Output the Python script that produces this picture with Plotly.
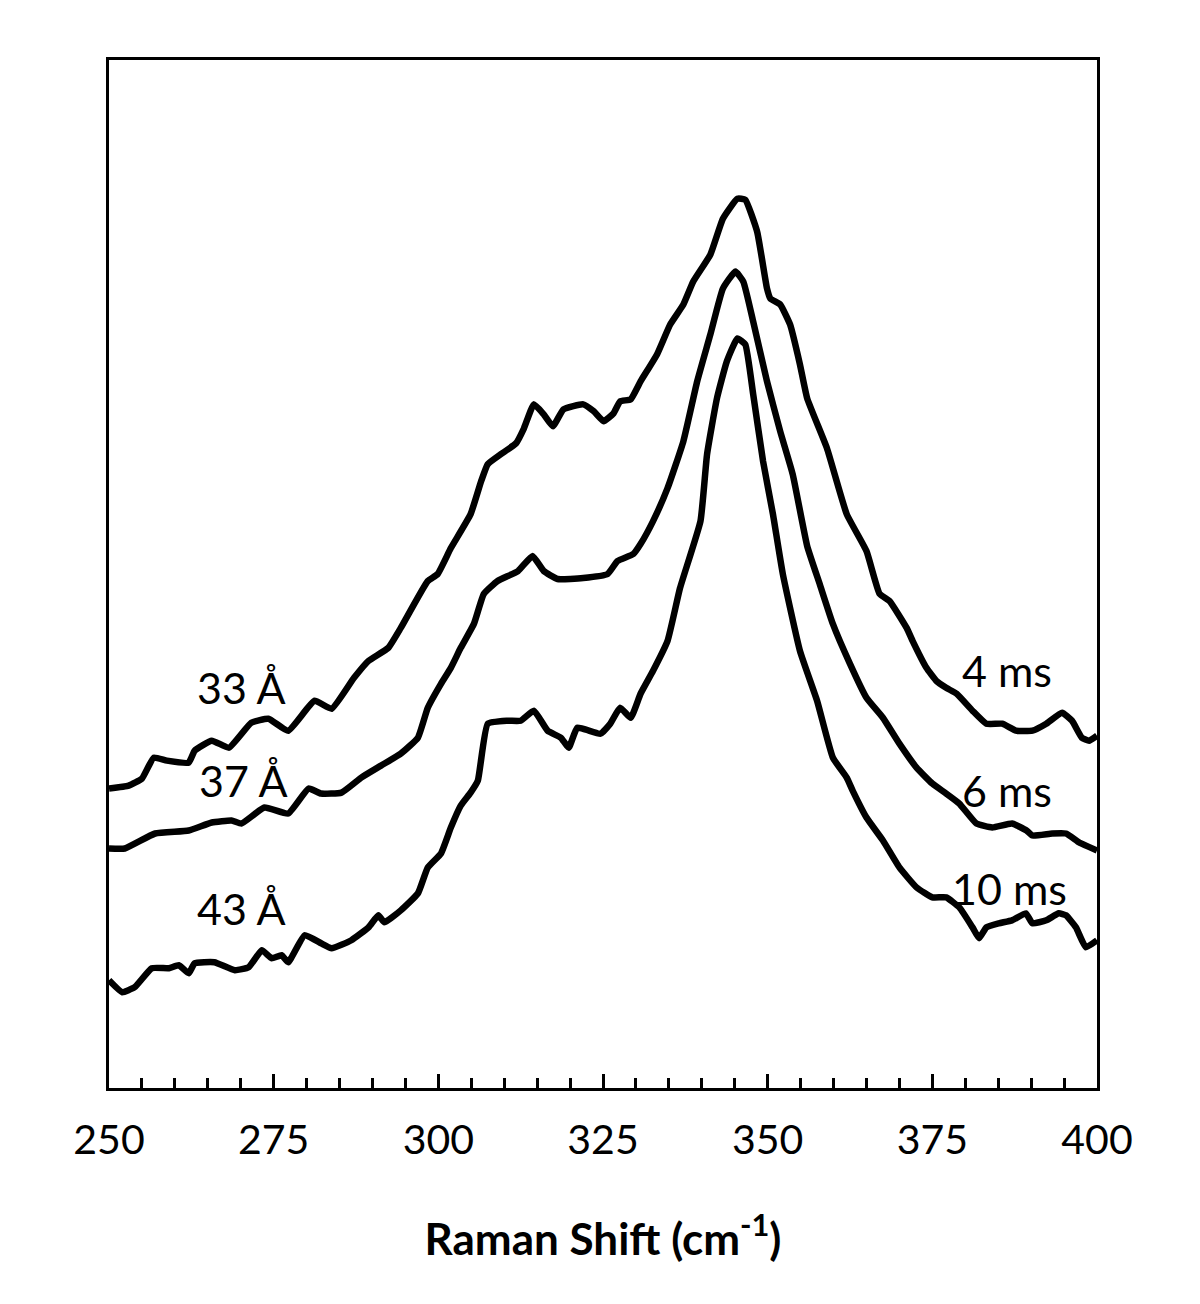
import plotly.graph_objects as go

# Raman shift (cm^-1) and intensity (arbitrary units, offset traces)
x_4ms = [250.0, 253.0, 255.0, 256.8, 258.8, 262.1, 263.0, 265.6, 268.2, 271.6, 274.2, 277.2, 281.2, 283.8,
         287.2, 289.4, 292.4, 294.3, 298.4, 299.9, 301.9, 304.9, 306.5, 307.5, 309.5, 311.8, 313.0, 314.5,
         316.0, 317.4, 319.0, 322.0, 323.6, 325.1, 326.6, 327.6, 329.2, 330.7, 333.2, 335.2, 337.2, 338.7,
         341.3, 343.2, 345.4, 346.6, 348.4, 349.9, 350.4, 351.9, 353.4, 354.9, 356.0, 359.0, 362.0, 365.0,
         367.0, 368.5, 371.1, 372.0, 374.1, 375.6, 377.1, 378.7, 381.1, 383.2, 385.6, 387.7, 390.2, 392.3,
         394.7, 396.2, 397.7, 398.8, 400.0]
y_4ms = [300, 303, 310, 331, 328, 326, 338, 348, 341, 366, 370, 358, 388, 380,
         411, 428, 441, 461, 508, 515, 541, 575, 608, 625, 635, 646, 661, 685,
         675, 663, 680, 685, 678, 668, 676, 688, 690, 708, 735, 765, 785, 808,
         835, 871, 891, 890, 858, 801, 791, 785, 765, 725, 691, 641, 575, 538,
         495, 488, 461, 448, 421, 408, 401, 395, 378, 365, 365, 358, 358, 365,
         376, 368, 351, 348, 353]

x_6ms = [250.0, 252.4, 257.0, 262.1, 265.6, 268.6, 270.1, 273.6, 277.2, 280.3, 282.2, 285.3, 288.3, 291.3,
         294.3, 296.9, 298.4, 300.4, 301.9, 303.4, 305.4, 306.9, 309.0, 312.1, 314.3, 316.0, 318.1, 322.0,
         325.7, 327.2, 329.6, 330.7, 332.6, 334.8, 337.2, 339.3, 341.3, 343.2, 345.1, 346.3, 347.8, 349.9,
         351.9, 353.8, 356.0, 357.9, 359.9, 362.5, 365.0, 367.5, 370.0, 372.6, 375.0, 377.1, 379.1, 381.7,
         384.1, 387.1, 389.3, 390.2, 393.2, 395.3, 397.3, 400.0]
y_6ms = [240, 240, 255, 258, 266, 268, 265, 281, 275, 300, 295, 296, 311, 323,
         335, 351, 381, 405, 421, 441, 465, 495, 508, 518, 533, 518, 510, 511,
         515, 528, 535, 545, 568, 601, 648, 708, 755, 801, 818, 808, 768, 708,
         658, 615, 543, 505, 465, 425, 391, 371, 345, 321, 305, 295, 285, 265,
         261, 265, 258, 253, 255, 255, 246, 238]

x_10ms = [250.0, 252.0, 253.9, 256.5, 259.1, 260.6, 262.1, 263.0, 266.0, 269.1, 271.2, 273.2, 274.7, 276.2,
          277.2, 279.7, 282.2, 283.8, 286.8, 289.4, 290.9, 291.8, 294.3, 296.9, 298.4, 300.4, 301.9, 303.4,
          304.9, 306.0, 307.5, 310.5, 312.5, 314.5, 316.6, 318.6, 319.8, 321.1, 324.6, 326.1, 327.6, 329.2,
          330.7, 332.6, 334.8, 336.7, 339.8, 340.8, 342.3, 343.8, 345.4, 346.6, 347.8, 349.3, 350.8, 352.3,
          354.9, 357.5, 359.9, 362.0, 362.9, 365.0, 367.5, 370.0, 372.6, 375.0, 377.1, 379.1, 381.1, 382.1,
          383.2, 385.1, 387.1, 389.2, 390.2, 392.3, 394.2, 395.3, 396.8, 398.3, 400.0]
y_10ms = [108, 96, 101, 120, 120, 123, 115, 125, 126, 118, 121, 138, 130, 133,
          126, 153, 145, 140, 148, 161, 173, 166, 178, 195, 221, 235, 261, 283,
          296, 308, 365, 368, 368, 378, 358, 351, 341, 361, 355, 365, 381, 371,
          395, 418, 448, 501, 568, 635, 691, 728, 751, 745, 695, 628, 575, 515,
          438, 388, 331, 311, 298, 271, 248, 221, 201, 191, 191, 181, 161, 150,
          161, 165, 168, 175, 165, 168, 175, 173, 161, 141, 148]

size_labels = ["33 Å", "37 Å", "43 Å"]
size_label_x = [270.1, 270.4, 270.1]
size_label_y = [401, 308, 180]
time_labels = ["4 ms", "6 ms", "10 ms"]
time_label_x = [386.4, 386.4, 386.7]
time_label_y = [418, 298, 200]

FONT = "Lato, 'Open Sans', sans-serif"

fig = go.Figure()
for xs, ys in [(x_4ms, y_4ms), (x_6ms, y_6ms), (x_10ms, y_10ms)]:
    fig.add_trace(go.Scatter(x=xs, y=ys, mode="lines",
                             line=dict(color="black", width=6.5, shape="spline", smoothing=0.4),
                             showlegend=False, hoverinfo="skip"))

for t, xx, yy in zip(size_labels + time_labels, size_label_x + time_label_x, size_label_y + time_label_y):
    fig.add_annotation(x=xx, y=yy, text=t, showarrow=False,
                       font=dict(family=FONT, size=43, color="black"),
                       xanchor="center", yanchor="middle")

fig.update_layout(
    width=1200, height=1304,
    margin=dict(l=101, r=111, t=52, b=224),
    plot_bgcolor="white", paper_bgcolor="white",
    font=dict(family=FONT, color="black"),
)
fig.update_xaxes(
    range=[250, 400], tick0=250, dtick=25,
    ticks="inside", ticklen=14, tickwidth=3, tickcolor="black",
    minor=dict(dtick=5, ticks="inside", ticklen=10, tickwidth=3, tickcolor="black", showgrid=False),
    showgrid=False, zeroline=False,
    showline=True, linecolor="black", linewidth=3, mirror=True,
    tickfont=dict(family=FONT, size=41, color="black"),
    ticklabelstandoff=14,
    title=dict(text="<b>Raman Shift (cm<sup>-1</sup>)</b>",
               font=dict(family=FONT, size=44, color="black"), standoff=62),
)
fig.update_yaxes(
    range=[0, 1030], showticklabels=False, ticks="", showgrid=False, zeroline=False,
    showline=True, linecolor="black", linewidth=3, mirror=True,
)

fig.write_html("out.html")
